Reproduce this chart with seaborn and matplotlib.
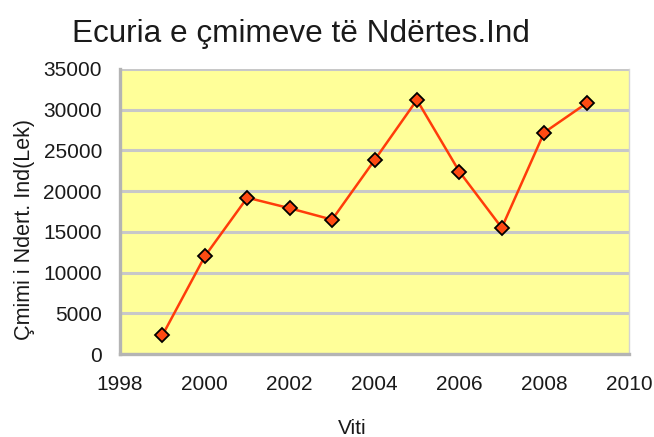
import matplotlib
matplotlib.use("Agg")
import matplotlib.pyplot as plt
import seaborn as sns
import pandas as pd

years = [1999, 2000, 2001, 2002, 2003, 2004, 2005, 2006, 2007, 2008, 2009]
prices = [2300, 12000, 19200, 17900, 16500, 23800, 31200, 22400, 15500, 27200, 30800]
x_ticks = [1998, 2000, 2002, 2004, 2006, 2008, 2010]
y_ticks = [0, 5000, 10000, 15000, 20000, 25000, 30000, 35000]

sns.set_theme(style="white")
plt.rcParams['font.family'] = ['Liberation Sans', 'DejaVu Sans']

df = pd.DataFrame({"Viti": years, "Cmimi": prices})

W, H = 654, 437
fig = plt.figure(figsize=(W/100, H/100), dpi=100)
ax = fig.add_axes([120/W, 1-354/H, (629-120)/W, (354-69)/H])
ax.set_facecolor("#ffff99")

sns.lineplot(data=df, x="Viti", y="Cmimi", ax=ax, color="#ff3c0a", linewidth=1.8,
             marker="D", markersize=7, markerfacecolor="#ff4a12",
             markeredgecolor="black", markeredgewidth=1.3, zorder=5)

ax.set_xlim(1998, 2010)
ax.set_ylim(0, 35000)
ax.set_xticks(x_ticks)
ax.set_yticks(y_ticks)
ax.yaxis.grid(True, color="#c8c8c8", linewidth=2.2)
ax.xaxis.grid(False)
ax.set_axisbelow(True)

ax.spines["top"].set_visible(False)
ax.spines["right"].set_color("#d4d4d4")
ax.spines["right"].set_linewidth(1.0)
for s in ["left", "bottom"]:
    ax.spines[s].set_color("#b4b4b4")
    ax.spines[s].set_linewidth(2.4)

ax.tick_params(axis="both", which="major", length=8, width=2, color="#b4b4b4",
               labelsize=15, labelcolor="#1a1a1a", direction="out")
ax.tick_params(axis="y", pad=5)
ax.tick_params(axis="x", pad=7)

ax.set_xlabel("")
ax.set_ylabel("")
fig.text(352/W, 1-434/H, "Viti", fontsize=15, color="#1a1a1a",
         ha="center", va="baseline")
fig.text(25/W, 1-229/H, "Çmimi i Ndert. Ind(Lek)", fontsize=15.5, color="#1a1a1a",
         ha="center", va="center", rotation=90)

fig.text(301/W, 1-42/H, "Ecuria e çmimeve të Ndërtes.Ind", fontsize=22.7,
         color="#1a1a1a", ha="center", va="baseline")

fig.savefig("out.png", dpi=100, facecolor="white")
